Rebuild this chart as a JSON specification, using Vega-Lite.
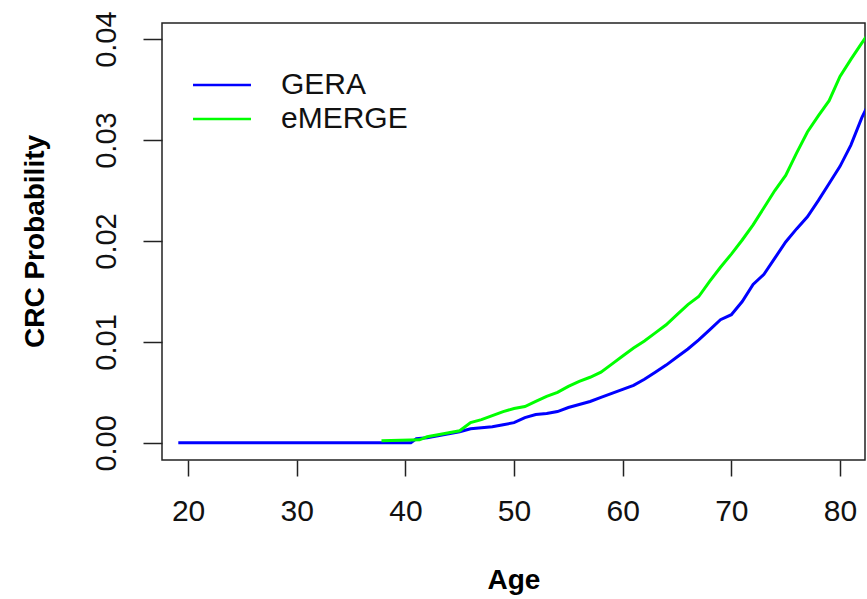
{
  "$schema": "https://vega.github.io/schema/vega-lite/v6.json",
  "width": 703,
  "height": 437,
  "autosize": {"type": "none"},
  "padding": {"left": 162, "top": 23, "right": 2, "bottom": 139},
  "background": "white",
  "config": {
    "view": {"stroke": "#222222", "strokeWidth": 1.5},
    "font": "Liberation Sans"
  },
  "data": {
    "values": [
      {"cohort": "GERA", "age": 19.1, "p": 0},
      {"cohort": "GERA", "age": 40.5, "p": 0},
      {"cohort": "GERA", "age": 41, "p": 0.0004},
      {"cohort": "GERA", "age": 42, "p": 0.0005},
      {"cohort": "GERA", "age": 43, "p": 0.0007},
      {"cohort": "GERA", "age": 44, "p": 0.0009},
      {"cohort": "GERA", "age": 45, "p": 0.0011},
      {"cohort": "GERA", "age": 46, "p": 0.0014},
      {"cohort": "GERA", "age": 47, "p": 0.0015},
      {"cohort": "GERA", "age": 48, "p": 0.0016},
      {"cohort": "GERA", "age": 49, "p": 0.0018},
      {"cohort": "GERA", "age": 50, "p": 0.002},
      {"cohort": "GERA", "age": 51, "p": 0.0025},
      {"cohort": "GERA", "age": 52, "p": 0.0028},
      {"cohort": "GERA", "age": 53, "p": 0.0029},
      {"cohort": "GERA", "age": 54, "p": 0.0031},
      {"cohort": "GERA", "age": 55, "p": 0.0035},
      {"cohort": "GERA", "age": 56, "p": 0.0038},
      {"cohort": "GERA", "age": 57, "p": 0.0041},
      {"cohort": "GERA", "age": 58, "p": 0.0045},
      {"cohort": "GERA", "age": 59, "p": 0.0049},
      {"cohort": "GERA", "age": 60, "p": 0.0053},
      {"cohort": "GERA", "age": 61, "p": 0.0057},
      {"cohort": "GERA", "age": 62, "p": 0.0063},
      {"cohort": "GERA", "age": 63, "p": 0.007},
      {"cohort": "GERA", "age": 64, "p": 0.0077},
      {"cohort": "GERA", "age": 65, "p": 0.0085},
      {"cohort": "GERA", "age": 66, "p": 0.0093},
      {"cohort": "GERA", "age": 67, "p": 0.0102},
      {"cohort": "GERA", "age": 68, "p": 0.0112},
      {"cohort": "GERA", "age": 69, "p": 0.0122},
      {"cohort": "GERA", "age": 70, "p": 0.0127},
      {"cohort": "GERA", "age": 71, "p": 0.014},
      {"cohort": "GERA", "age": 72, "p": 0.0157},
      {"cohort": "GERA", "age": 73, "p": 0.0167},
      {"cohort": "GERA", "age": 74, "p": 0.0183},
      {"cohort": "GERA", "age": 75, "p": 0.0199},
      {"cohort": "GERA", "age": 76, "p": 0.0212},
      {"cohort": "GERA", "age": 77, "p": 0.0224},
      {"cohort": "GERA", "age": 78, "p": 0.024},
      {"cohort": "GERA", "age": 79, "p": 0.0257},
      {"cohort": "GERA", "age": 80, "p": 0.0274},
      {"cohort": "GERA", "age": 81, "p": 0.0295},
      {"cohort": "GERA", "age": 82, "p": 0.0322},
      {"cohort": "GERA", "age": 82.5, "p": 0.0333},
      {"cohort": "eMERGE", "age": 37.8, "p": 0.0002},
      {"cohort": "eMERGE", "age": 41.3, "p": 0.0003},
      {"cohort": "eMERGE", "age": 42, "p": 0.0006},
      {"cohort": "eMERGE", "age": 43, "p": 0.0008},
      {"cohort": "eMERGE", "age": 44, "p": 0.001},
      {"cohort": "eMERGE", "age": 45, "p": 0.0012},
      {"cohort": "eMERGE", "age": 46, "p": 0.002},
      {"cohort": "eMERGE", "age": 47, "p": 0.0023},
      {"cohort": "eMERGE", "age": 48, "p": 0.0027},
      {"cohort": "eMERGE", "age": 49, "p": 0.0031},
      {"cohort": "eMERGE", "age": 50, "p": 0.0034},
      {"cohort": "eMERGE", "age": 51, "p": 0.0036},
      {"cohort": "eMERGE", "age": 52, "p": 0.0041},
      {"cohort": "eMERGE", "age": 53, "p": 0.0046},
      {"cohort": "eMERGE", "age": 54, "p": 0.005},
      {"cohort": "eMERGE", "age": 55, "p": 0.0056},
      {"cohort": "eMERGE", "age": 56, "p": 0.0061},
      {"cohort": "eMERGE", "age": 57, "p": 0.0065},
      {"cohort": "eMERGE", "age": 58, "p": 0.007},
      {"cohort": "eMERGE", "age": 59, "p": 0.0078},
      {"cohort": "eMERGE", "age": 60, "p": 0.0086},
      {"cohort": "eMERGE", "age": 61, "p": 0.0094},
      {"cohort": "eMERGE", "age": 62, "p": 0.0101},
      {"cohort": "eMERGE", "age": 63, "p": 0.0109},
      {"cohort": "eMERGE", "age": 64, "p": 0.0117},
      {"cohort": "eMERGE", "age": 65, "p": 0.0127},
      {"cohort": "eMERGE", "age": 66, "p": 0.0137},
      {"cohort": "eMERGE", "age": 67, "p": 0.0145},
      {"cohort": "eMERGE", "age": 68, "p": 0.016},
      {"cohort": "eMERGE", "age": 69, "p": 0.0174},
      {"cohort": "eMERGE", "age": 70, "p": 0.0187},
      {"cohort": "eMERGE", "age": 71, "p": 0.0201},
      {"cohort": "eMERGE", "age": 72, "p": 0.0216},
      {"cohort": "eMERGE", "age": 73, "p": 0.0233},
      {"cohort": "eMERGE", "age": 74, "p": 0.025},
      {"cohort": "eMERGE", "age": 75, "p": 0.0265},
      {"cohort": "eMERGE", "age": 76, "p": 0.0287},
      {"cohort": "eMERGE", "age": 77, "p": 0.0308},
      {"cohort": "eMERGE", "age": 78, "p": 0.0324},
      {"cohort": "eMERGE", "age": 79, "p": 0.0339},
      {"cohort": "eMERGE", "age": 80, "p": 0.0363},
      {"cohort": "eMERGE", "age": 81, "p": 0.038},
      {"cohort": "eMERGE", "age": 82, "p": 0.0396},
      {"cohort": "eMERGE", "age": 82.5, "p": 0.0404}
    ]
  },
  "mark": {"type": "line", "strokeWidth": 3, "clip": true},
  "encoding": {
    "x": {
      "field": "age",
      "type": "quantitative",
      "scale": {"domain": [17.6, 82.3], "nice": false, "zero": false},
      "axis": {
        "title": "Age",
        "values": [20, 30, 40, 50, 60, 70, 80],
        "grid": false,
        "domain": false,
        "tickSize": 16,
        "tickWidth": 1.5,
        "tickColor": "#222222",
        "labelFontSize": 30,
        "labelColor": "#111111",
        "labelPadding": 20,
        "labelBaseline": "top",
        "labelFlush": false,
        "titleFontSize": 28,
        "titleFontWeight": "bold",
        "titleColor": "#000000",
        "titleBaseline": "alphabetic",
        "titleY": 128
      }
    },
    "y": {
      "field": "p",
      "type": "quantitative",
      "scale": {"domain": [-0.0017, 0.0416], "nice": false, "zero": false},
      "axis": {
        "title": "CRC Probability",
        "values": [0, 0.01, 0.02, 0.03, 0.04],
        "format": ".2f",
        "grid": false,
        "domain": false,
        "tickSize": 19,
        "tickWidth": 1.5,
        "tickColor": "#222222",
        "labelFontSize": 29,
        "labelColor": "#111111",
        "labelAngle": 270,
        "labelAlign": "center",
        "labelBaseline": "bottom",
        "labelPadding": 22,
        "labelFlush": false,
        "titleFontSize": 28,
        "titleFontWeight": "bold",
        "titleColor": "#000000",
        "titleAngle": 270,
        "titleAlign": "center",
        "titleBaseline": "middle",
        "titleX": -127,
        "titleY": 218
      }
    },
    "color": {
      "field": "cohort",
      "type": "nominal",
      "scale": {"domain": ["GERA", "eMERGE"], "range": ["#0000FF", "#00FF00"]},
      "legend": {
        "title": null,
        "orient": "none",
        "legendX": 45,
        "legendY": 47,
        "padding": 0,
        "symbolType": "M-4,0H4",
        "symbolSize": 210,
        "symbolStrokeWidth": 2.5,
        "labelFontSize": 30,
        "labelColor": "#111111",
        "labelOffset": 44,
        "rowPadding": 4
      }
    }
  }
}
